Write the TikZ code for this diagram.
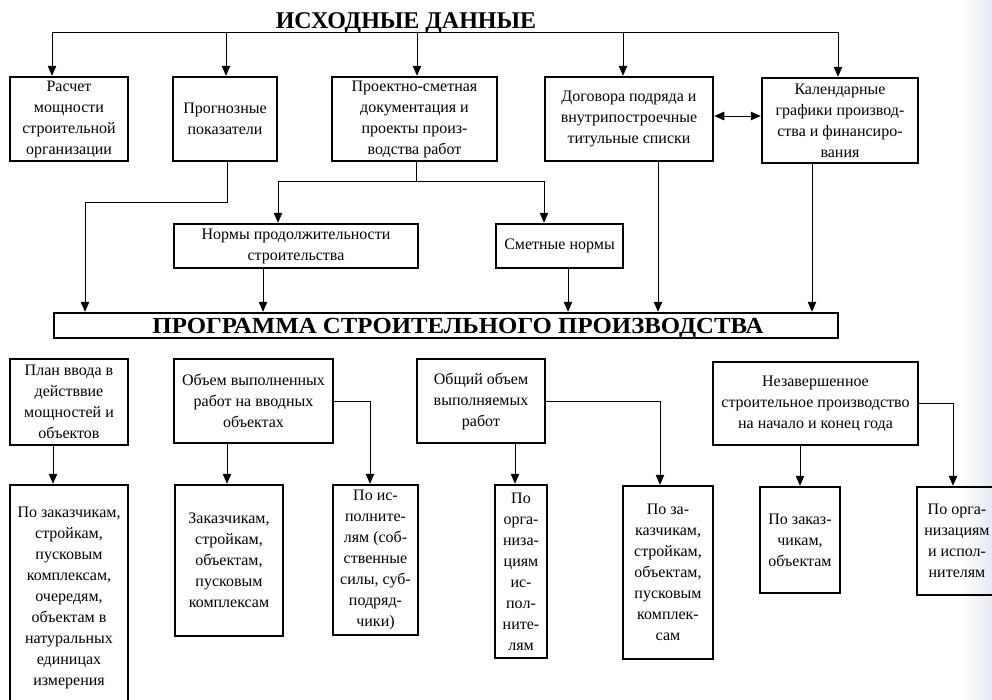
\documentclass[tikz,border=0pt]{standalone}
\usepackage{fontspec}
\setmainfont{Liberation Serif}
\usetikzlibrary{arrows.meta,calc}
\definecolor{edgetint}{RGB}{229,233,240}
\begin{document}
\begin{tikzpicture}[x=1pt,y=-1pt,
  box/.style={draw, line width=2.5pt, align=center, inner sep=0pt,
    font={\fontsize{16}{21}\selectfont}},
  conn/.style={line width=0.8pt},
  arr/.style={conn, -{Triangle[length=10pt,width=8.5pt]}},
  arrtwo/.style={conn, {Triangle[length=10pt,width=8.5pt]}-{Triangle[length=10pt,width=8.5pt]}}]
\useasboundingbox (0,0) rectangle (992,699);
\clip (0,0) rectangle (992,699);
\shade[left color=white, right color=edgetint] (960,0) rectangle (992,699);

% title
\node[font={\fontsize{24}{28}\selectfont\bfseries}, inner sep=0pt, anchor=base] (title) at (406,28) {ИСХОДНЫЕ ДАННЫЕ};

% top row
\node[box, minimum width=118, minimum height=84] (A1) at (69,119) {Расчет\\мощности\\строительной\\организации};
\node[box, minimum width=104, minimum height=84] (A2) at (225,119) {Прогнозные\\показатели};
\node[box, minimum width=165, minimum height=84] (A3) at (414.5,119) {Проектно-сметная\\документация и\\проекты произ-\\водства работ};
\node[box, minimum width=168, minimum height=84] (A4) at (629,119) {Договора подряда и\\внутрипостроечные\\титульные списки};
\node[box, minimum width=156, minimum height=85] (A5) at (840,120.5) {Календарные\\графики производ-\\ства и финансиро-\\вания};

% middle row
\node[box, minimum width=244, minimum height=44] (B1) at (296,246) {Нормы продолжительности\\строительства};
\node[box, minimum width=127, minimum height=44] (B2) at (559.5,246) {Сметные нормы};

% program
\node[box, minimum width=784, minimum height=25, text height=16pt, text depth=1pt,
  font={\fontsize{23}{25}\selectfont\bfseries}] (P) at (446,325.5)
  {\hspace*{24pt}\scalebox{1.08}[1]{ПРОГРАММА СТРОИТЕЛЬНОГО ПРОИЗВОДСТВА}};

% lower row
\node[box, minimum width=118, minimum height=86] (C1) at (69,402) {План ввода в\\действвие\\мощностей и\\объектов};
\node[box, minimum width=159, minimum height=84] (C2) at (253.5,401) {Объем выполненных\\работ на вводных\\объектах};
\node[box, minimum width=128, minimum height=84] (C3) at (481,401) {Общий объем\\выполняемых\\работ};
\node[box, minimum width=205, minimum height=83] (C4) at (815.5,403.5) {Незавершенное\\строительное производство\\на начало и конец года};

% bottom row
\node[box, minimum width=118, minimum height=225] (D1) at (69,597.5) {По заказчикам,\\стройкам,\\пусковым\\комплексам,\\очередям,\\объектам в\\натуральных\\единицах\\измерения};
\node[box, minimum width=108, minimum height=151] (D2) at (229,560.5) {Заказчикам,\\стройкам,\\объектам,\\пусковым\\комплексам};
\node[box, minimum width=85, minimum height=150] (D3) at (375.5,560) {По ис-\\полните-\\лям (соб-\\ственные\\силы, суб-\\подряд-\\чики)};
\node[box, minimum width=52, minimum height=173] (D4) at (521,571.5) {По\\орга-\\низа-\\циям\\ис-\\пол-\\ните-\\лям};
\node[box, minimum width=90, minimum height=173] (D5) at (668,572.5) {По за-\\казчикам,\\стройкам,\\объектам,\\пусковым\\комплек-\\сам};
\node[box, minimum width=80, minimum height=106] (D6) at (800,540) {По заказ-\\чикам,\\объектам};
\node[box, minimum width=80, minimum height=108] (D7) at (957,541) {По орга-\\низациям\\и испол-\\нителям};

% top bus
\coordinate (t1) at (52,32);
\coordinate (t2) at (226,32);
\coordinate (t3) at (417,32);
\coordinate (t4) at (623,32);
\coordinate (t5) at (838,32);
\draw[conn] (t1) -- (t5);
\draw[arr] (t1) -- (t1 |- A1.north);
\draw[arr] (t2) -- (t2 |- A2.north);
\draw[arr] (t3) -- (t3 |- A3.north);
\draw[arr] (t4) -- (t4 |- A4.north);
\draw[arr] (t5) -- (t5 |- A5.north);
\draw[arrtwo] ([yshift=3pt]A4.east) -- ([yshift=3pt]A4.east -| A5.west);

% middle connectors
\coordinate (m1) at (85,202);
\draw[arr] ([xshift=2pt]A2.south) |- (m1) -- (m1 |- P.north);
\coordinate (sL) at (278,181);
\coordinate (sR) at (544,181);
\draw[conn] (sL) -- (sR);
\draw[conn] ([xshift=1.5pt]A3.south) -- ([xshift=1.5pt]A3.south |- sL);
\draw[arr] (sL) -- (sL |- B1.north);
\draw[arr] (sR) -- (sR |- B2.north);
\draw[arr] ([xshift=-33pt]B1.south) -- ([xshift=-33pt]B1.south |- P.north);
\draw[arr] ([xshift=8.5pt]B2.south) -- ([xshift=8.5pt]B2.south |- P.north);
\draw[arr] ([xshift=29pt]A4.south) -- ([xshift=29pt]A4.south |- P.north);
\draw[arr] ([xshift=-28pt]A5.south) -- ([xshift=-28pt]A5.south |- P.north);

% lower connectors
\draw[arr] ([xshift=-16pt]D1.north |- C1.south) -- ([xshift=-16pt]D1.north);
\draw[arr] ([xshift=-2pt]D2.north |- C2.south) -- ([xshift=-2pt]D2.north);
\draw[arr] (C2.east) -| ([xshift=-5.5pt]D3.north);
\draw[arr] ([xshift=-6pt]D4.north |- C3.south) -- ([xshift=-6pt]D4.north);
\draw[arr] (C3.east) -| ([xshift=-8pt]D5.north);
\draw[arr] (D6.north |- C4.south) -- (D6.north);
\draw[arr] (C4.east) -| ([xshift=-4pt]D7.north);
\end{tikzpicture}
\end{document}
